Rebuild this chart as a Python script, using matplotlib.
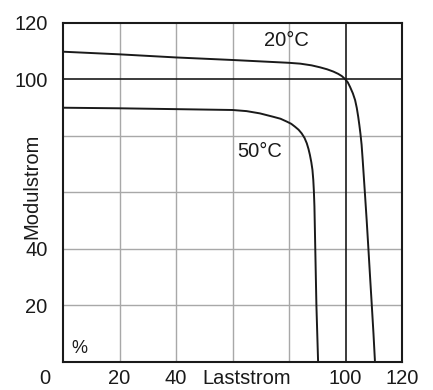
import matplotlib
matplotlib.use("Agg")
import matplotlib.pyplot as plt

plt.rcParams['font.family'] = ['Liberation Sans', 'DejaVu Sans']

# Data
x_20C = [0.7, 20, 40, 60, 70, 80, 84, 88, 91.0, 93.5, 95.7, 97.4, 98.7, 99.8, 100.8, 101.6, 102.6, 103.4, 104.0, 104.5, 104.9, 105.3, 105.7, 106.1, 106.5, 106.9, 107.5, 108.1, 108.7, 109.3, 109.9, 110.4]
y_20C = [109.7, 108.8, 107.7, 106.8, 106.3, 105.8, 105.5, 104.9, 104.2, 103.5, 102.7, 101.9, 101.1, 100.1, 98.9, 97.3, 95.0, 92.6, 89.8, 86.7, 83.8, 80.6, 76.8, 71.2, 65.2, 59.2, 50.0, 40.1, 30.0, 20.1, 10.0, 0.6]
x_50C = [0.3, 20, 40, 60, 65, 69.7, 74.4, 77.0, 79.2, 80.8, 82.1, 83.4, 84.5, 85.5, 86.3, 86.9, 87.4, 87.9, 88.3, 88.6, 88.8, 89.0, 89.3, 89.7, 90.3]
y_50C = [89.9, 89.7, 89.4, 89.1, 88.7, 87.9, 86.7, 86.0, 85.0, 84.2, 83.2, 82.1, 80.8, 79.2, 77.3, 75.3, 73.2, 70.6, 67.9, 64.3, 60.5, 55.0, 40.0, 20.0, 0.0]

x_ticks = [20, 40, 100, 120]
y_ticks = [20, 40, 100, 120]
label_20 = "20°C"
label_50 = "50°C"

fig = plt.figure(figsize=(4.33, 3.90), dpi=100)
ax = fig.add_axes([63/433, (390-361.7)/390, (402-63)/433, (361.7-22.7)/390])
ax.set_xlim(0, 120)
ax.set_ylim(0, 120)

grid = [20, 40, 60, 80]
for g in grid:
    ax.axvline(g, color='#a8a8a8', lw=1.0, zorder=1)
    ax.axhline(g, color='#a8a8a8', lw=1.0, zorder=1)
ax.axvline(100, color='#1a1a1a', lw=1.2, zorder=2)
ax.axhline(100, color='#1a1a1a', lw=1.2, zorder=2)

ax.plot(x_20C, y_20C, color='#1a1a1a', lw=1.4, zorder=3, solid_joinstyle='round')
ax.plot(x_50C, y_50C, color='#1a1a1a', lw=1.4, zorder=3, solid_joinstyle='round')

for s in ax.spines.values():
    s.set_color('#1a1a1a')
    s.set_linewidth(1.5)

fs = 14.5
ax.set_xticks(x_ticks)
ax.set_xticklabels([str(t) for t in x_ticks])
ax.set_yticks(y_ticks)
ax.set_yticklabels([str(t) for t in y_ticks])
ax.tick_params(axis='both', length=0, labelsize=fs, colors='#1a1a1a')
ax.tick_params(axis='x', pad=5)
ax.tick_params(axis='y', pad=11)

ax.text(79.2, 113.6, label_20, fontsize=fs, ha='center', va='center', color='#1a1a1a')
ax.text(69.7, 74.3, label_50, fontsize=fs, ha='center', va='center', color='#1a1a1a')
ax.text(5.7, 4.6, "%", fontsize=fs - 1.5, ha='center', va='center', color='#1a1a1a')
ax.text(65.0, -5.8, "Laststrom", fontsize=fs, ha='center', va='center', color='#1a1a1a')
ax.text(-11.0, 62.0, "Modulstrom", fontsize=fs, ha='center', va='center', rotation=90, color='#1a1a1a')
ax.text(-6.4, -5.8, "0", fontsize=fs, ha='center', va='center', color='#1a1a1a')

fig.savefig("out.png", dpi=100)
